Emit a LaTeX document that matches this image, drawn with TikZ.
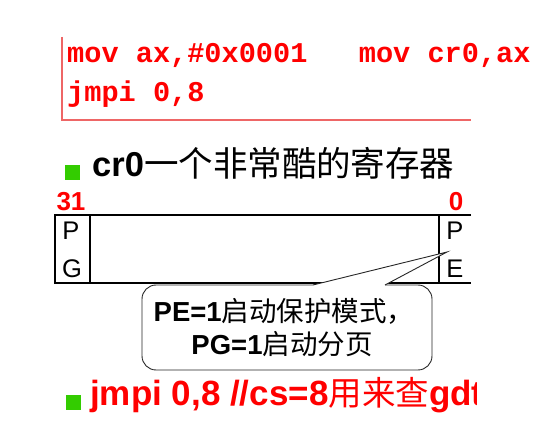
\documentclass[tikz,border=0pt]{standalone}
\usepackage{fontspec}
\setmainfont{Liberation Sans}
\newfontfamily\cjk{Noto Sans CJK SC}
\newfontfamily\codefont{Liberation Mono}
\definecolor{codered}{HTML}{FF0000}
\definecolor{linered}{HTML}{EE6666}
\definecolor{bulletgreen}{HTML}{33CC00}
\begin{document}
\begin{tikzpicture}[x=1pt,y=-1pt,
  txt/.style={inner sep=0pt, anchor=base west},
  ctr/.style={inner sep=0pt, anchor=base},
  bullet/.style={fill=bulletgreen, minimum size=15pt, inner sep=0pt},
  reg/.style={line width=1.3pt},
  bitno/.style={ctr, text=codered, font=\bfseries\fontsize{26}{30}\selectfont},
  bitname/.style={ctr, font=\fontsize{25.5}{28}\selectfont},
  callout/.style={draw=black!85, line width=0.9pt, fill=white}]
\useasboundingbox (0,0) rectangle (539,430);
% code frame
\draw[linered, line width=1.2pt] (62,37) -- (62,120) -- (471,120);
\node[txt, text=codered, font=\codefont\bfseries\fontsize{28.6}{30}\selectfont] (code1) at (67,63) {mov ax,\#0x0001\ \ \ mov cr0,ax};
\node[txt, text=codered, font=\codefont\bfseries\fontsize{28.6}{30}\selectfont] (code2) at (67,102) {jmpi 0,8};
% title
\node[bullet] (b1) at (72.5,172.5) {};
\node[txt, font=\fontsize{34.5}{40}\selectfont] (title) at (92,177) {\textbf{cr0}{\cjk 一个非常酷的寄存器}};
% register
\draw[reg] (471,215) -- (55,215) -- (55,283) -- (471,283);
\draw[reg] (90,215) -- (90,283);
\draw[reg] (439,215) -- (439,283);
\node[bitno] (n31) at (71,211) {31};
\node[bitno] (n0) at (456,211) {0};
\node[bitname] (pg1) at (71,240) {P};
\node[bitname] (pg2) at (72,278) {G};
\node[bitname] (pe1) at (455,240) {P};
\node[bitname] (pe2) at (455,278) {E};
% callout
\coordinate (tip) at (447,252);
\coordinate (tl) at (313,285);
\coordinate (tr) at (385,285);
\draw[callout, rounded corners=14pt] (142,285) rectangle (432,370);
\fill[white] (tl) -- (tip) -- (tr) -- (385,287) -- (313,287) -- cycle;
\draw[draw=black!85, line width=0.9pt] (tl) -- (tip) -- (tr);
\node[ctr, font=\fontsize{27.5}{30}\selectfont] (c1) at (284,322) {\textbf{PE=1}{\cjk 启动保护模式，}};
\node[ctr, font=\fontsize{27.5}{30}\selectfont] (c2) at (282,355) {\textbf{PG=1}{\cjk 启动分页}};
% bottom line
\node[bullet] (b2) at (73,403) {};
\begin{scope}
\clip (0,370) rectangle (476,430);
\node[txt, text=codered, font=\bfseries\fontsize{35}{40}\selectfont] (last) at (90,406) {jmpi 0,8 //cs=8{\cjk\mdseries\fontsize{33.5}{40}\selectfont 用来查}gdt};
\end{scope}
\end{tikzpicture}
\end{document}
